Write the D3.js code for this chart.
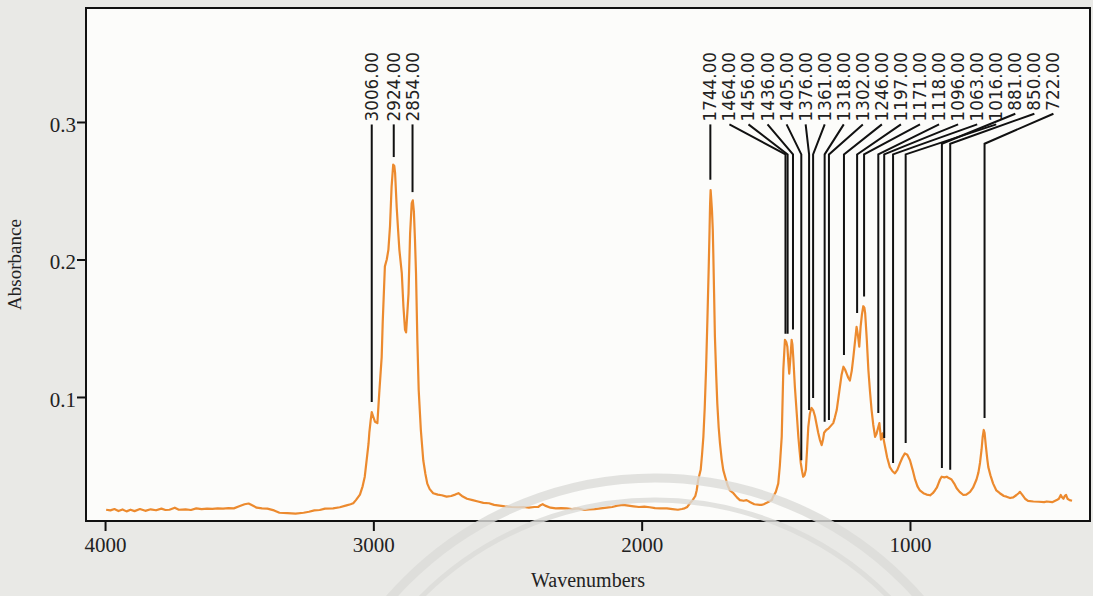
<!DOCTYPE html>
<html>
<head>
<meta charset="utf-8">
<script src="https://cdn.jsdelivr.net/npm/d3@7"></script>
<style>
  html, body { margin: 0; padding: 0; background: #e9e9e6; }
  svg { display: block; }
</style>
</head>
<body>
<div id="chart"></div>
<script>
// spectrum: [wavenumber, absorbance]
const spectrum = [
  [3996,0.0180],[3980,0.0175],[3965,0.0185],[3950,0.0170],[3935,0.0182],[3920,0.0168],[3905,0.0180],
  [3890,0.0170],[3870,0.0185],[3850,0.0172],[3830,0.0183],[3810,0.0176],[3790,0.0188],[3775,0.0178],
  [3760,0.0180],[3740,0.0195],[3725,0.0180],[3700,0.0183],[3680,0.0178],[3660,0.0190],[3640,0.0185],
  [3620,0.0188],[3600,0.0186],[3580,0.0190],[3560,0.0188],[3540,0.0192],[3520,0.0190],[3500,0.0205],
  [3480,0.0220],[3465,0.0225],[3450,0.0210],[3435,0.0195],[3415,0.0190],[3395,0.0188],[3370,0.0175],
  [3350,0.0158],[3320,0.0155],[3290,0.0152],[3260,0.0158],[3240,0.0165],[3220,0.0175],[3200,0.0178],
  [3180,0.0188],[3150,0.0190],[3125,0.0198],[3100,0.0212],[3085,0.0220],[3075,0.0227],[3065,0.0250],
  [3050,0.0290],[3040,0.0350],[3032,0.0420],[3025,0.0540],[3018,0.0660],[3015,0.0740],[3010,0.0830],
  [3006,0.0890],[3001,0.0860],[2994,0.0820],[2985,0.0810],[2978,0.1030],[2969,0.1290],[2965,0.1550],
  [2960,0.1800],[2957,0.1950],[2950,0.2000],[2944,0.2070],[2938,0.2240],[2932,0.2530],[2926,0.2690],
  [2922,0.2680],[2919,0.2630],[2913,0.2380],[2908,0.2220],[2903,0.2070],[2894,0.1900],[2888,0.1660],
  [2882,0.1490],[2878,0.1470],[2875,0.1560],[2869,0.1750],[2863,0.2190],[2857,0.2410],[2853,0.2430],
  [2849,0.2350],[2845,0.2150],[2841,0.1900],[2836,0.1410],[2831,0.1050],[2823,0.0760],[2814,0.0540],
  [2806,0.0440],[2799,0.0370],[2790,0.0330],[2777,0.0300],[2760,0.0290],[2745,0.0285],[2727,0.0275],
  [2710,0.0280],[2695,0.0290],[2683,0.0300],[2670,0.0280],[2651,0.0260],[2630,0.0250],[2610,0.0240],
  [2590,0.0230],[2569,0.0227],[2550,0.0215],[2530,0.0210],[2510,0.0205],[2485,0.0200],[2460,0.0198],
  [2440,0.0200],[2420,0.0195],[2400,0.0200],[2386,0.0200],[2375,0.0215],[2369,0.0220],[2360,0.0210],
  [2340,0.0195],[2320,0.0190],[2300,0.0192],[2280,0.0190],[2260,0.0185],[2237,0.0190],[2215,0.0178],
  [2195,0.0182],[2175,0.0185],[2153,0.0190],[2130,0.0195],[2110,0.0200],[2090,0.0210],[2070,0.0215],
  [2050,0.0210],[2030,0.0205],[2010,0.0200],[1990,0.0202],[1970,0.0198],[1950,0.0192],[1930,0.0190],
  [1906,0.0190],[1885,0.0185],[1865,0.0180],[1850,0.0185],[1840,0.0190],[1830,0.0200],[1820,0.0227],
  [1810,0.0250],[1800,0.0280],[1795,0.0320],[1789,0.0400],[1780,0.0470],[1775,0.0580],[1770,0.0710],
  [1765,0.0920],[1760,0.1200],[1755,0.1560],[1750,0.1950],[1747,0.2210],[1745,0.2400],[1743,0.2505],
  [1741,0.2450],[1738,0.2360],[1735,0.2220],[1733,0.2045],[1730,0.1750],[1727,0.1440],[1722,0.1150],
  [1718,0.0950],[1713,0.0780],[1708,0.0660],[1702,0.0550],[1696,0.0470],[1689,0.0420],[1680,0.0360],
  [1671,0.0320],[1658,0.0300],[1645,0.0270],[1634,0.0250],[1620,0.0245],[1609,0.0250],[1595,0.0235],
  [1580,0.0220],[1560,0.0215],[1553,0.0215],[1545,0.0220],[1534,0.0230],[1525,0.0240],[1515,0.0250],
  [1510,0.0275],[1500,0.0310],[1491,0.0370],[1485,0.0500],[1478,0.0710],[1472,0.1200],[1466,0.1415],
  [1461,0.1400],[1457,0.1366],[1453,0.1250],[1450,0.1170],[1445,0.1300],[1441,0.1415],[1438,0.1380],
  [1435,0.1290],[1429,0.1075],[1422,0.0880],[1416,0.0710],[1411,0.0600],[1407,0.0520],[1402,0.0460],
  [1398,0.0420],[1393,0.0430],[1388,0.0470],[1384,0.0600],[1379,0.0780],[1373,0.0880],[1367,0.0920],
  [1360,0.0900],[1354,0.0860],[1348,0.0800],[1342,0.0740],[1336,0.0690],[1329,0.0650],[1324,0.0690],
  [1320,0.0740],[1312,0.0760],[1304,0.0770],[1295,0.0790],[1286,0.0810],[1280,0.0850],[1273,0.0905],
  [1267,0.0990],[1261,0.1075],[1255,0.1160],[1248,0.1220],[1242,0.1200],[1236,0.1170],[1230,0.1140],
  [1224,0.1120],[1217,0.1190],[1211,0.1290],[1205,0.1400],[1199,0.1510],[1194,0.1450],[1189,0.1366],
  [1184,0.1510],[1179,0.1600],[1174,0.1660],[1170,0.1650],[1167,0.1610],[1161,0.1420],[1155,0.1196],
  [1149,0.1040],[1143,0.0905],[1137,0.0800],[1130,0.0710],[1125,0.0730],[1121,0.0760],[1114,0.0810],
  [1111,0.0750],[1108,0.0690],[1102,0.0736],[1098,0.0690],[1093,0.0640],[1085,0.0560],[1075,0.0490],
  [1065,0.0460],[1056,0.0445],[1047,0.0470],[1037,0.0520],[1028,0.0560],[1019,0.0590],[1010,0.0580],
  [1000,0.0540],[990,0.0470],[981,0.0400],[972,0.0350],[963,0.0320],[950,0.0300],[938,0.0290],
  [925,0.0285],[915,0.0300],[907,0.0320],[900,0.0340],[894,0.0370],[888,0.0400],[882,0.0420],
  [872,0.0415],[863,0.0420],[855,0.0410],[845,0.0400],[835,0.0370],[826,0.0336],[815,0.0310],
  [801,0.0287],[790,0.0290],[776,0.0310],[765,0.0340],[752,0.0400],[745,0.0450],[739,0.0520],
  [733,0.0620],[729,0.0710],[725,0.0760],[722,0.0740],[717,0.0640],[712,0.0550],[708,0.0490],
  [700,0.0430],[690,0.0370],[678,0.0320],[665,0.0300],[650,0.0280],[640,0.0275],[627,0.0265],
  [615,0.0270],[603,0.0287],[595,0.0300],[590,0.0310],[582,0.0290],[571,0.0260],[560,0.0245],
  [540,0.0240],[520,0.0238],[500,0.0235],[490,0.0240],[470,0.0235],[453,0.0250],[445,0.0260],
  [438,0.0287],[433,0.0270],[428,0.0260],[423,0.0280],[418,0.0287],[413,0.0260],[405,0.0250],
  [396,0.0245]
];

// peak markers: wavenumber and absorbance at the tip of the marker line
const peaksLeft  = [3006, 2924, 2854];
const tipsLeft   = [0.0964, 0.2745, 0.249];
const peaksRight = [1744, 1464, 1456, 1436, 1405, 1376, 1361, 1318, 1302, 1246,
                    1197, 1171, 1118, 1096, 1063, 1016, 881, 850, 722];
const tipsRight  = [0.258, 0.146, 0.146, 0.149, 0.054, 0.0905, 0.0993, 0.082, 0.0833, 0.1305,
                    0.161, 0.173, 0.0884, 0.0702, 0.052, 0.0665, 0.0484, 0.047, 0.0847];

const xTicks = [4000, 3000, 2000, 1000];
const yTicks = [0.1, 0.2, 0.3];

const W = 1093, H = 596;
const margin = {left: 86, right: 3, top: 8, bottom: 75};
const plotW = W - margin.left - margin.right;
const plotH = H - margin.top - margin.bottom;

const svg = d3.select('#chart').append('svg')
  .attr('width', W).attr('height', H);

svg.append('rect').attr('width', W).attr('height', H).attr('fill', '#e9e9e6');

const g = svg.append('g').attr('transform', `translate(${margin.left},${margin.top})`);

g.append('rect')
  .attr('width', plotW).attr('height', plotH)
  .attr('fill', '#fcfcfa');

const x = d3.scaleLinear().domain([4071, 329]).range([0, plotW]);
const y = d3.scaleLinear().domain([0.0098, 0.3829]).range([plotH, 0]);

// faint watermark rings from the scan
const ring = svg.append('g').attr('fill', 'none').attr('stroke', '#dcdcd9').attr('opacity', 0.8);
ring.append('circle').attr('cx', 655).attr('cy', 830).attr('r', 352).attr('stroke-width', 9);
ring.append('circle').attr('cx', 655).attr('cy', 830).attr('r', 330).attr('stroke-width', 5);

// spectrum
g.append('path')
  .datum(spectrum)
  .attr('fill', 'none')
  .attr('stroke', '#ec8a2e')
  .attr('stroke-width', 2.2)
  .attr('stroke-linejoin', 'round')
  .attr('d', d3.line().x(d => x(d[0])).y(d => y(d[1])));

// peak labels + leader lines
const fmt = d3.format('.2f');
const labelTop = 44;   // plot coords (52 on the page)

function drawPeaks(peaks, tips, labelX) {
  peaks.forEach((p, i) => {
    const lx = labelX(p, i);
    const t = g.append('text')
      .attr('transform', `translate(${lx},${labelTop}) rotate(-90)`)
      .attr('text-anchor', 'end')
      .attr('dominant-baseline', 'central')
      .attr('font-family', 'DejaVu Sans, sans-serif')
      .attr('font-size', 16.8)
      .attr('fill', '#222')
      .text(fmt(p));
    const len = t.node().getComputedTextLength();
    const y0 = labelTop + len + 3;
    const px = x(p);
    const elbow = y0 + 30;
    const pts = Math.abs(px - lx) < 1
      ? [[px, y0], [px, y(tips[i])]]
      : [[lx, y0], [px, elbow], [px, y(tips[i])]];
    g.append('path')
      .attr('d', d3.line()(pts))
      .attr('fill', 'none')
      .attr('stroke', '#111')
      .attr('stroke-width', 2);
  });
}

drawPeaks(peaksLeft, tipsLeft, p => x(p));
const step = 19.06;
drawPeaks(peaksRight, tipsRight, (p, i) => x(peaksRight[0]) + i * step);

// frame
g.append('rect')
  .attr('width', plotW).attr('height', plotH)
  .attr('fill', 'none').attr('stroke', '#111').attr('stroke-width', 2);

// axes
const xAxis = g.append('g')
  .attr('transform', `translate(0,${plotH})`)
  .call(d3.axisBottom(x).tickValues(xTicks).tickSize(10).tickPadding(6).tickFormat(d3.format('d')));
const yAxis = g.append('g')
  .call(d3.axisLeft(y).tickValues(yTicks).tickSize(9).tickPadding(1).tickFormat(d3.format('.1f')));

[xAxis, yAxis].forEach(a => {
  a.select('.domain').remove();
  a.selectAll('line').attr('stroke', '#111').attr('stroke-width', 2);
  a.selectAll('text')
    .attr('font-family', 'Liberation Serif, serif')
    .attr('font-size', 21)
    .attr('fill', '#222');
});
yAxis.selectAll('text').attr('dy', '0.45em');

svg.append('text')
  .attr('x', margin.left + plotW / 2).attr('y', 587)
  .attr('text-anchor', 'middle')
  .attr('font-family', 'Liberation Serif, serif')
  .attr('font-size', 20)
  .attr('fill', '#222')
  .text('Wavenumbers');

svg.append('text')
  .attr('transform', `translate(21,${margin.top + plotH / 2}) rotate(-90)`)
  .attr('text-anchor', 'middle')
  .attr('font-family', 'Liberation Serif, serif')
  .attr('font-size', 19)
  .attr('fill', '#222')
  .text('Absorbance');
</script>
</body>
</html>
